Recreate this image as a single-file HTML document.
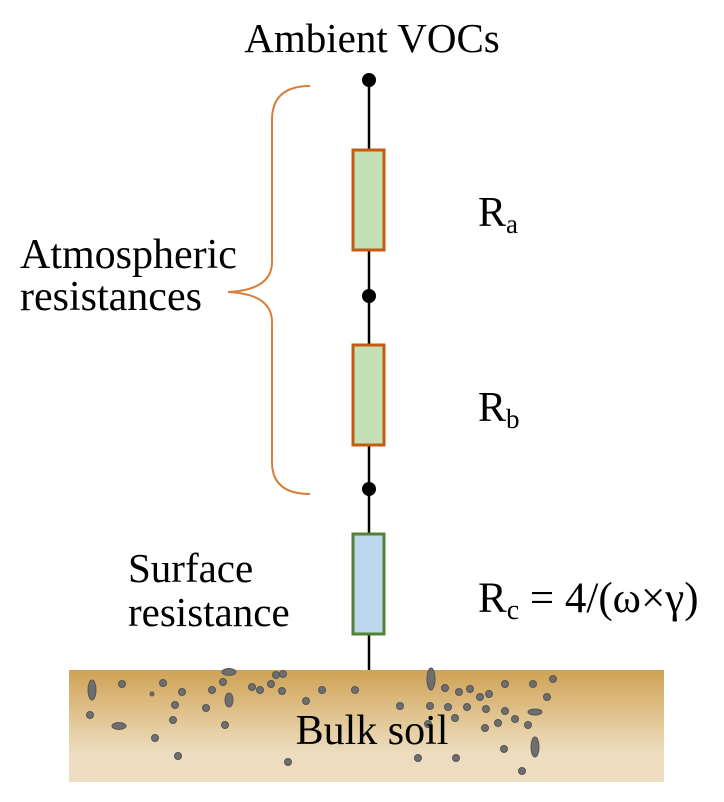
<!DOCTYPE html>
<html><head><style>
body{margin:0;background:#fff;width:724px;height:802px;overflow:hidden}
svg{display:block}
text{font-family:"Liberation Serif",serif;fill:#000}
</style></head><body>
<svg width="724" height="802" viewBox="0 0 724 802">
<defs><linearGradient id="g" x1="0" y1="0" x2="0" y2="1">
<stop offset="0" stop-color="#cfa255"/><stop offset="0.55" stop-color="#e6cfa4"/><stop offset="0.75" stop-color="#eddcbf"/><stop offset="1" stop-color="#eddcbf"/></linearGradient></defs>
<text x="372" y="52" font-size="41" text-anchor="middle">Ambient VOCs</text>
<line x1="369" y1="80" x2="369" y2="672" stroke="#000" stroke-width="2.5"/>
<circle cx="369" cy="80" r="7"/><circle cx="369" cy="296" r="7"/><circle cx="369" cy="489" r="7"/>
<rect x="353" y="150" width="31" height="100" fill="#c5e0b4" stroke="#c55a11" stroke-width="3"/>
<rect x="353" y="345" width="31" height="100" fill="#c5e0b4" stroke="#c55a11" stroke-width="3"/>
<rect x="353" y="534" width="31" height="100" fill="#bdd7ee" stroke="#548235" stroke-width="3"/>
<path d="M310 86 Q272 86 272 120 L272 262 Q272 290 228 292 Q272 294 272 322 L272 462 Q272 494 310 494" fill="none" stroke="#d97d3a" stroke-width="2"/>
<text x="20" y="268" font-size="42">Atmospheric</text>
<text x="20" y="310" font-size="42">resistances</text>
<text x="128" y="582" font-size="41">Surface</text>
<text x="128" y="626" font-size="41">resistance</text>
<text x="478" y="226" font-size="42">R<tspan font-size="27" dy="7">a</tspan></text>
<text x="478" y="421" font-size="42">R<tspan font-size="27" dy="7">b</tspan></text>
<text x="478" y="612" font-size="43">R<tspan font-size="28" dy="7">c</tspan><tspan dy="-7"> = 4/(ω×γ)</tspan></text>
<rect x="69" y="670" width="595" height="112" fill="url(#g)"/>
<g fill="#6e6e6e" stroke="#555" stroke-width="1">
<ellipse cx="92" cy="690" rx="4" ry="10"/><ellipse cx="119" cy="726" rx="7" ry="3.5"/><ellipse cx="229" cy="672" rx="7" ry="3.5"/>
<ellipse cx="229" cy="700" rx="4" ry="7"/><ellipse cx="431" cy="679" rx="4" ry="11"/><ellipse cx="535" cy="747" rx="4" ry="10"/><ellipse cx="535" cy="712" rx="7" ry="3"/>
<g>
<circle cx="122" cy="684" r="3.5"/><circle cx="163" cy="683" r="3.5"/><circle cx="152" cy="694" r="2"/><circle cx="182" cy="692" r="3.5"/>
<circle cx="90" cy="715" r="3.5"/><circle cx="175" cy="705" r="3.5"/><circle cx="173" cy="720" r="3.5"/><circle cx="155" cy="738" r="3.5"/>
<circle cx="178" cy="756" r="3.5"/><circle cx="212" cy="690" r="3.5"/><circle cx="223" cy="682" r="3.5"/><circle cx="206" cy="708" r="3.5"/>
<circle cx="225" cy="725" r="3.5"/><circle cx="252" cy="687" r="3.5"/><circle cx="260" cy="690" r="3.5"/><circle cx="271" cy="684" r="3.5"/>
<circle cx="282" cy="691" r="3.5"/><circle cx="276" cy="675" r="3.5"/><circle cx="283" cy="674" r="3.5"/><circle cx="306" cy="701" r="3.5"/>
<circle cx="322" cy="690" r="3.5"/><circle cx="288" cy="762" r="3.5"/><circle cx="355" cy="690" r="3.5"/><circle cx="400" cy="706" r="3.5"/>
<circle cx="445" cy="688" r="3.5"/><circle cx="459" cy="692" r="3.5"/><circle cx="470" cy="689" r="3.5"/><circle cx="480" cy="697" r="3.5"/>
<circle cx="489" cy="694" r="3.5"/><circle cx="505" cy="684" r="3.5"/><circle cx="533" cy="684" r="3.5"/><circle cx="553" cy="679" r="3.5"/>
<circle cx="547" cy="697" r="3.5"/><circle cx="430" cy="706" r="3.5"/><circle cx="448" cy="707" r="3.5"/><circle cx="467" cy="707" r="3.5"/>
<circle cx="486" cy="709" r="3.5"/><circle cx="505" cy="711" r="3.5"/><circle cx="455" cy="718" r="3.5"/><circle cx="428" cy="724" r="3.5"/>
<circle cx="485" cy="728" r="3.5"/><circle cx="498" cy="723" r="3.5"/><circle cx="515" cy="719" r="3.5"/><circle cx="528" cy="725" r="3.5"/>
<circle cx="418" cy="758" r="3.5"/><circle cx="456" cy="758" r="3.5"/><circle cx="504" cy="749" r="3.5"/><circle cx="522" cy="771" r="3.5"/>
</g></g>
<text x="372" y="744" font-size="42" text-anchor="middle">Bulk  soil</text>
</svg>
</body></html>
